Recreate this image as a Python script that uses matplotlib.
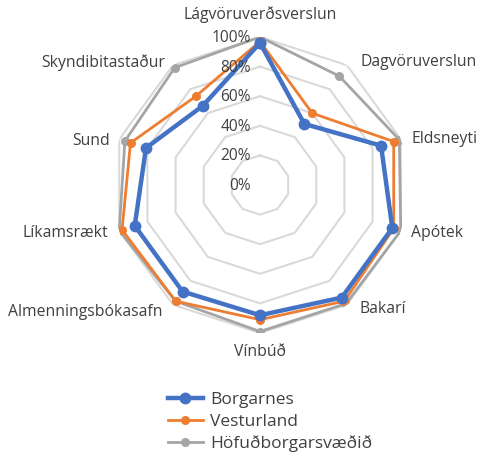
import numpy as np
import matplotlib
matplotlib.use("Agg")
import matplotlib.pyplot as plt

# Données (part des habitants, en %)
categories = ["Lágvöruverðsverslun", "Dagvöruverslun", "Eldsneyti", "Apótek", "Bakarí",
              "Vínbúð", "Almenningsbókasafn", "Líkamsrækt", "Sund", "Skyndibitastaður"]
borgarnes = [96, 51, 86, 94, 94, 88, 89, 89, 81, 66]
vesturland = [97, 60, 95, 95, 97, 91, 97, 98, 92, 74]
hofudborg = [100, 91, 99, 100, 99, 99, 97, 100, 96, 98]
ticks = [0, 20, 40, 60, 80, 100]
tick_labels = ["0%", "20%", "40%", "60%", "80%", "100%"]

plt.rcParams["font.family"] = ["Open Sans", "DejaVu Sans"]
txt_color = "#404040"

n = len(categories)
theta = np.linspace(0, 2 * np.pi, n, endpoint=False)

fig = plt.figure(figsize=(4.78, 4.58), dpi=100)
ax = fig.add_axes([112 / 478, 1 - 333 / 458, 296 / 478, 296 / 458], projection="polar")
ax.set_theta_zero_location("N")
ax.set_theta_direction(-1)
ax.set_ylim(0, 100)
ax.grid(False)
ax.spines["polar"].set_visible(False)
ax.set_xticks([])
ax.set_yticks([])

# Grille polygonale
th_closed = np.append(theta, theta[0])
for t in ticks[1:]:
    ax.plot(th_closed, [t] * (n + 1), color="#d9d9d9", lw=1.5, zorder=1)

# Séries
series = [
    ("Höfuðborgarsvæðið", hofudborg, "#a5a5a5", 2.0, 5.5, 3),
    ("Vesturland", vesturland, "#ed7d31", 2.0, 5.5, 4),
    ("Borgarnes", borgarnes, "#4472c4", 3.2, 7.5, 5),
]
handles = {}
for name, vals, col, lw, ms, z in series:
    v = np.append(vals, vals[0])
    (h,) = ax.plot(th_closed, v, color=col, lw=lw, marker="o", ms=ms, zorder=z, label=name)
    handles[name] = h

# Étiquettes radiales
for t, lab in zip(ticks, tick_labels):
    ax.annotate(lab, xy=(0, t), xytext=(-9, -1), textcoords="offset pixels",
                ha="right", va="center", fontsize=11.2, color=txt_color, zorder=6)

# Étiquettes des catégories
offsets = [(0, 22, "center"), (14, 3, "left"), (11, 0, "left"), (10, -2, "left"),
           (13, -4, "left"), (0, -19, "center"), (-11, -7, "right"), (-11, -2, "right"),
           (-9, -2, "right"), (-8, 3, "right")]
for th, lab, (dx, dy, ha) in zip(theta, categories, offsets):
    ax.annotate(lab, xy=(th, 100), xytext=(dx, dy), textcoords="offset pixels",
                ha=ha, va="center", fontsize=11.3, color=txt_color)

order = ["Borgarnes", "Vesturland", "Höfuðborgarsvæðið"]
fig.legend([handles[k] for k in order], order, loc="center",
           bbox_to_anchor=(270 / 478, 1 - 422 / 458), frameon=False,
           fontsize=12.5, handlelength=2.0, handletextpad=0.4, labelspacing=0.3,
           labelcolor=txt_color)

fig.savefig("out.png", dpi=100)
